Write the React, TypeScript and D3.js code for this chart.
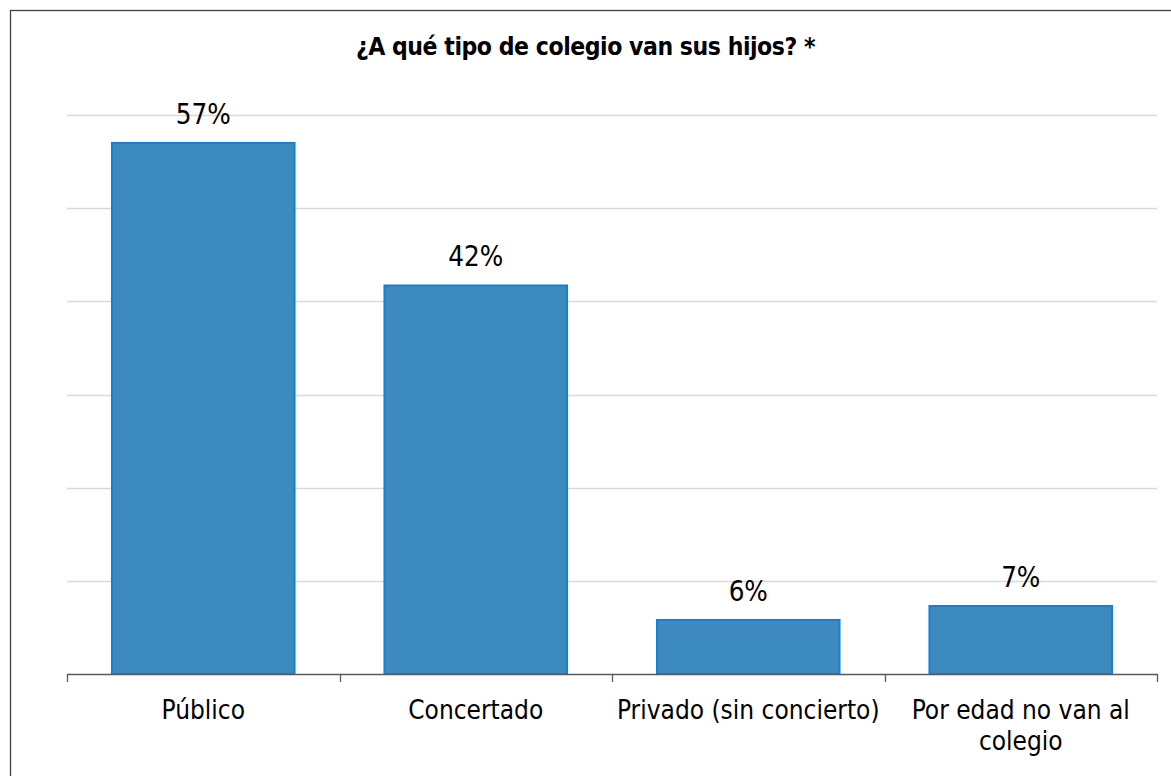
import React, { useEffect, useRef } from "react";
import * as d3 from "d3";

const title = "¿A qué tipo de colegio van sus hijos? *";
const categories = ["Público", "Concertado", "Privado (sin concierto)", "Por edad no van al colegio"];
const values = [57, 41.7, 5.8, 7.3];
const yTicks = [0, 10, 20, 30, 40, 50, 60];

const W = 1171;
const H = 776;
const FONT = "'DejaVu Sans Condensed', 'DejaVu Sans', sans-serif";

export default function App() {
  const ref = useRef<SVGSVGElement>(null);

  useEffect(() => {
    const svg = d3.select(ref.current);
    svg.selectAll("*").remove();

    const m = { left: 67, right: 14, top: 115, bottom: 102 };
    const x = d3.scaleBand<string>().domain(categories).range([m.left, W - m.right]).paddingInner(0.33).paddingOuter(0.165);
    const y = d3.scaleLinear().domain([0, 60]).range([H - m.bottom, m.top]);

    // outer border
    svg.append("rect").attr("x", 10.5).attr("y", 10.5).attr("width", 1300).attr("height", 900)
      .attr("fill", "#fff").attr("stroke", "#404040").attr("stroke-width", 1.3);

    svg.append("text").attr("x", W / 2).attr("y", 55).attr("text-anchor", "middle")
      .attr("font-family", FONT).attr("font-weight", "bold").attr("font-size", 24.5).attr("fill", "#000")
      .attr("letter-spacing", -0.45)
      .text(title);

    // gridlines
    svg.append("g").selectAll("line").data(yTicks.filter((t) => t > 0)).join("line")
      .attr("x1", m.left).attr("x2", W - m.right)
      .attr("y1", (d) => Math.round(y(d)) + 0.5).attr("y2", (d) => Math.round(y(d)) + 0.5)
      .attr("stroke", "#d9d9d9").attr("stroke-width", 1.5);

    // bars
    svg.append("g").selectAll("rect").data(values).join("rect")
      .attr("x", (_, i) => x(categories[i])!)
      .attr("width", x.bandwidth())
      .attr("y", (d) => y(d))
      .attr("height", (d) => y(0) - y(d))
      .attr("fill", "#3d8abf").attr("stroke", "#137fd8").attr("stroke-width", 2);

    // value labels
    const fmt = d3.format(".0%");
    svg.append("g").selectAll("text").data(values).join("text")
      .attr("x", (_, i) => x(categories[i])! + x.bandwidth() / 2)
      .attr("y", (d) => y(d) - 19)
      .attr("text-anchor", "middle").attr("font-family", FONT).attr("font-size", 27.5).attr("fill", "#000")
      .text((d) => fmt(d / 100));

    // x axis
    const axis = d3.axisBottom(x).tickSize(0).tickPadding(0).tickFormat(() => "");
    const gx = svg.append("g").attr("transform", `translate(0,${y(0)})`).call(axis);
    gx.select(".domain").attr("stroke", "#595959").attr("stroke-width", 1.3);
    gx.selectAll(".tick").remove();
    const bounds = [m.left, ...categories.map((c) => x(c)! + x.bandwidth() + (x.step() - x.bandwidth()) / 2)];
    gx.selectAll("line.sep").data(bounds).join("line").attr("class", "sep")
      .attr("x1", (d) => Math.round(d) + 0.5).attr("x2", (d) => Math.round(d) + 0.5)
      .attr("y1", 0).attr("y2", 8).attr("stroke", "#595959").attr("stroke-width", 1.3);

    // category labels with wrapping
    const maxW = x.step();
    categories.forEach((c) => {
      const cx = x(c)! + x.bandwidth() / 2;
      const t = svg.append("text").attr("x", cx).attr("y", 719)
        .attr("text-anchor", "middle").attr("font-family", FONT).attr("font-size", 26).attr("fill", "#000");
      const words = c.split(" ");
      let line: string[] = [];
      let tspan = t.append("tspan").attr("x", cx).attr("dy", 0);
      words.forEach((w) => {
        line.push(w);
        tspan.text(line.join(" "));
        if ((tspan.node() as SVGTSpanElement).getComputedTextLength() > maxW && line.length > 1) {
          line.pop();
          tspan.text(line.join(" "));
          line = [w];
          tspan = t.append("tspan").attr("x", cx).attr("dy", 31).text(w);
        }
      });
    });
  }, []);

  return (
    <svg ref={ref} width={W} height={H} style={{ position: "absolute", left: 0, top: 0, display: "block", background: "#fff" }} />
  );
}
